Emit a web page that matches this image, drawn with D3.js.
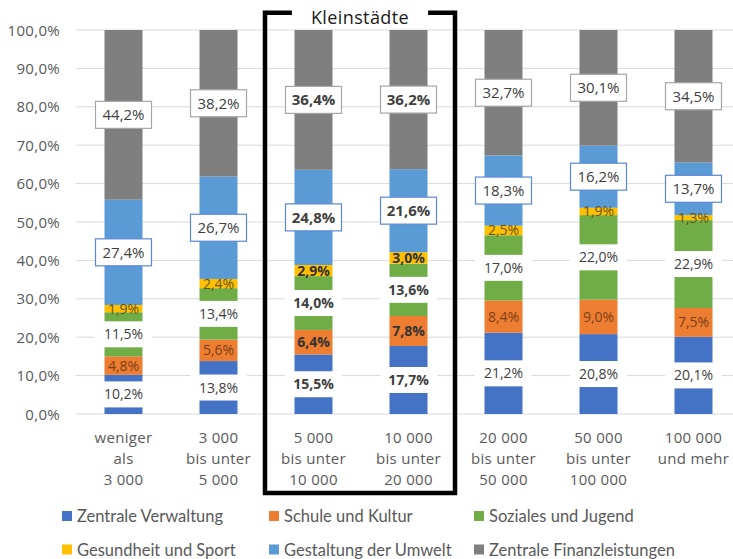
<!DOCTYPE html>
<html><head><meta charset="utf-8">
<script src="https://cdn.jsdelivr.net/npm/d3@7"></script>
<style>body{margin:0;background:#fff}svg{display:block}</style>
</head><body><svg id="c" width="733" height="559"></svg>
<script>
const categories = ["weniger als 3 000", "3 000 bis unter 5 000", "5 000 bis unter 10 000", "10 000 bis unter 20 000", "20 000 bis unter 50 000", "50 000 bis unter 100 000", "100 000 und mehr"];
const categoryLines = [["weniger","als","3 000"],["3 000","bis unter","5 000"],["5 000","bis unter","10 000"],["10 000","bis unter","20 000"],["20 000","bis unter","50 000"],["50 000","bis unter","100 000"],["100 000","und mehr"]];
const seriesNames = ["Zentrale Verwaltung","Schule und Kultur","Soziales und Jugend","Gesundheit und Sport","Gestaltung der Umwelt","Zentrale Finanzleistungen"];
const zentraleVerwaltung = [10.2, 13.8, 15.5, 17.7, 21.2, 20.8, 20.1];
const schuleKultur       = [4.8, 5.6, 6.4, 7.8, 8.4, 9.0, 7.5];
const sozialesJugend     = [11.5, 13.4, 14.0, 13.6, 17.0, 22.0, 22.9];
const gesundheitSport    = [1.9, 2.4, 2.9, 3.0, 2.5, 1.9, 1.3];
const gestaltungUmwelt   = [27.4, 26.7, 24.8, 21.6, 18.3, 16.2, 13.7];
const zentraleFinanz     = [44.2, 38.2, 36.4, 36.2, 32.7, 30.1, 34.5];
const yTicks = [0, 0.1, 0.2, 0.3, 0.4, 0.5, 0.6, 0.7, 0.8, 0.9, 1.0];
const highlighted = ["5 000 bis unter 10 000", "10 000 bis unter 20 000"];
const highlightTitle = "Kleinstädte";

const colors = ["#4472c4","#ed7d31","#70ad47","#ffc000","#5b9bd5","#7f7f7f"];
const seriesValues = [zentraleVerwaltung, schuleKultur, sozialesJugend, gesundheitSport, gestaltungUmwelt, zentraleFinanz];

const rows = categories.map((c, i) => {
  const r = {cat: c};
  seriesNames.forEach((s, j) => r[s] = seriesValues[j][i]);
  return r;
});

const svg = d3.select("#c");
const loc = d3.formatLocale({decimal: ",", thousands: ".", grouping: [3], currency: ["", "€"]});
const fmtTick = loc.format(".1%");
const fmtVal = v => loc.format(".1f")(v) + "%";

const x = d3.scaleBand().domain(categories).range([76, 741]).paddingInner(0.6).paddingOuter(0.3);
const y = d3.scaleLinear().domain([0, 1]).range([414, 30]);

// gridlines
svg.append("g").selectAll("line").data(yTicks).join("line")
  .attr("x1", 76).attr("x2", 733)
  .attr("y1", d => y(d)).attr("y2", d => y(d))
  .attr("stroke", "#d9d9d9").attr("stroke-width", 1);

// y tick labels
svg.append("g").selectAll("text").data(yTicks).join("text")
  .attr("x", 60).attr("y", d => y(d) + 5.5)
  .attr("text-anchor", "end")
  .attr("font-family", "Open Sans").attr("font-size", 15).attr("letter-spacing", 0.3)
  .attr("fill", "#595959").text(d => fmtTick(d));

const stack = d3.stack().keys(seriesNames).offset(d3.stackOffsetExpand);
const stacked = stack(rows);

const gBars = svg.append("g");
stacked.forEach((layer, j) => {
  gBars.append("g").attr("fill", colors[j]).selectAll("rect").data(layer).join("rect")
    .attr("x", d => x(d.data.cat)).attr("width", x.bandwidth())
    .attr("y", d => y(d[1])).attr("height", d => y(d[0]) - y(d[1]));
});

// labels
const gLab = svg.append("g");
const boxW = 57;
stacked.forEach((layer, j) => {
  layer.forEach((d, i) => {
    const cx = x(d.data.cat) + x.bandwidth() / 2;
    const cy = (y(d[0]) + y(d[1])) / 2;
    const bold = highlighted.includes(d.data.cat);
    const val = seriesValues[j][i];
    let fs = 14, fill = "#404040";
    if (j === 0 || j === 2) {
      gLab.append("rect").attr("x", cx - boxW / 2).attr("y", cy - 13).attr("width", boxW).attr("height", 26).attr("fill", "#fff");
    } else if (j === 4 || j === 5) {
      fs = 15;
      gLab.append("rect").attr("x", cx - boxW / 2 + 0.5).attr("y", cy - 13.5).attr("width", boxW - 1).attr("height", 27)
        .attr("fill", "#fff").attr("stroke", j === 4 ? "#5b87d6" : "#a6a6a6").attr("stroke-width", 1.2);
    } else if (j === 1) {
      fill = bold ? "#3a2a20" : "#7d3f18";
    } else if (j === 3) {
      fill = bold ? "#3a3020" : "#6b5410";
    }
    gLab.append("text").attr("x", cx).attr("y", cy + fs * 0.36)
      .attr("text-anchor", "middle")
      .attr("font-family", "Open Sans").attr("font-size", fs)
      .attr("font-weight", bold ? "bold" : "normal")
      .attr("fill", bold && (j === 1 || j === 3) ? "#333" : fill)
      .text(fmtVal(val));
  });
});

// category labels
const gCat = svg.append("g");
categories.forEach((c, i) => {
  const t = gCat.append("text").attr("text-anchor", "middle")
    .attr("font-family", "Open Sans").attr("font-size", 15).attr("letter-spacing", 0.3)
    .attr("fill", "#595959");
  categoryLines[i].forEach((ln, k) => {
    t.append("tspan").attr("x", x(c) + x.bandwidth() / 2).attr("y", 443 + k * 21).text(ln);
  });
});

// highlight bracket
const step = x.step();
const gapHalf = (step - x.bandwidth()) / 2;
const bx0 = x(highlighted[0]) - gapHalf - 1;
const bx1 = x(highlighted[1]) + x.bandwidth() + gapHalf - 1;
const by0 = 12.7, by1 = 493;
const title = svg.append("text").attr("x", (bx0 + bx1) / 2).attr("y", 23.5)
  .attr("text-anchor", "middle").attr("font-family", "Open Sans").attr("font-size", 18)
  .attr("letter-spacing", 0.4).attr("fill", "#1a1a1a").text(highlightTitle);
const tw = title.node().getComputedTextLength();
const tl = (bx0 + bx1) / 2 - tw / 2, tr = (bx0 + bx1) / 2 + tw / 2;
svg.append("path")
  .attr("d", `M${tl - 19},${by0} H${bx0} V${by1} H${bx1} V${by0} H${tr + 19}`)
  .attr("fill", "none").attr("stroke", "#000").attr("stroke-width", 4.5);

// legend
const legCols = [62, 269, 474], legRows = [516, 549.5];
const gLeg = svg.append("g");
seriesNames.forEach((s, j) => {
  const lx = legCols[j % 3], ly = legRows[Math.floor(j / 3)];
  gLeg.append("rect").attr("x", lx).attr("y", ly - 5).attr("width", 10).attr("height", 10).attr("fill", colors[j]);
  gLeg.append("text").attr("x", lx + 15).attr("y", ly + 6)
    .attr("font-family", "Lato").attr("font-size", 16.5).attr("fill", "#595959").text(s);
});
</script></body></html>
